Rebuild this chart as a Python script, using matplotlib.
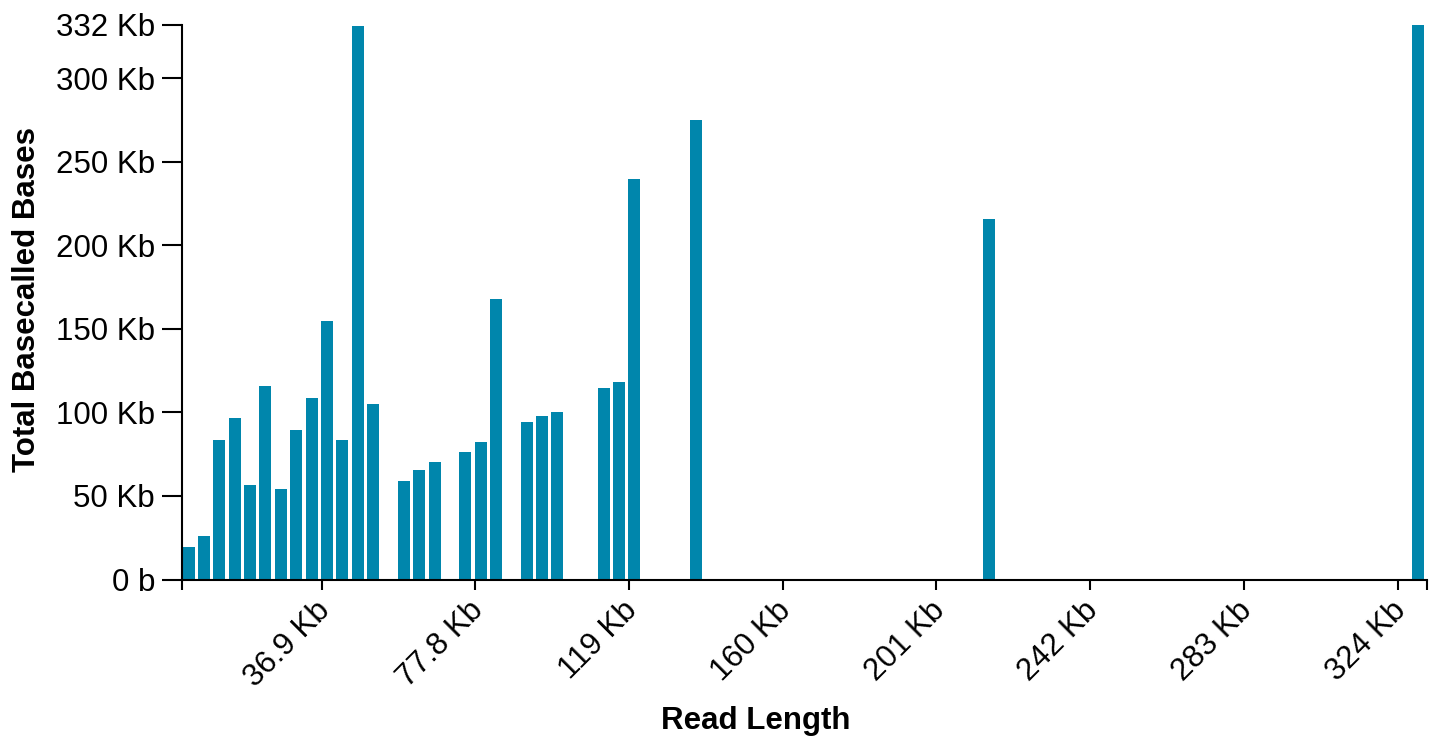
import matplotlib
matplotlib.use("Agg")
import matplotlib.pyplot as plt
import matplotlib.transforms as mtransforms

plt.rcParams['font.family'] = ['Liberation Sans', 'DejaVu Sans']

# read length bins (centre, Kb) and total basecalled bases per bin (Kb)
bin_centers = [1.36, 5.46, 9.56, 13.66, 17.76, 21.86, 25.96, 30.06, 34.16,
               38.26, 42.36, 46.46, 50.56, 58.76, 62.86, 66.96, 75.16, 79.26,
               83.36, 91.56, 95.66, 99.76, 112.06, 116.16, 120.26, 136.66,
               214.96, 329.36]
total_bases = [19.3, 26.3, 83.2, 96.4, 56.3, 115.6, 53.9, 89.2, 108.4,
               154.5, 83.2, 331.1, 104.8, 58.7, 65.3, 70.1, 76.0, 82.0,
               167.7, 94.0, 97.6, 100.0, 114.4, 118.0, 239.5, 274.9,
               215.6, 332.0]

x_ticks = [36.85, 77.85, 118.85, 159.85, 200.85, 241.85, 282.85, 323.85]
x_tick_labels = ['36.9 Kb', '77.8 Kb', '119 Kb', '160 Kb', '201 Kb',
                 '242 Kb', '283 Kb', '324 Kb']
y_ticks = [0, 50, 100, 150, 200, 250, 300, 332]
y_tick_labels = ['0 b', '50 Kb', '100 Kb', '150 Kb', '200 Kb', '250 Kb',
                 '300 Kb', '332 Kb']

x_min, x_max = -0.4, 331.7
bar_width = 3.2
color = '#0086AC'
fs = 22.5

fig = plt.figure(figsize=(14.37, 7.37), dpi=100)
W, H = 1437, 737
ax = fig.add_axes([182 / W, 1 - 579.5 / H, (1427 - 182) / W, (579.5 - 24.6) / H])

ax.bar(bin_centers, total_bases, width=bar_width, color=color, align='center')

ax.set_xlim(x_min, x_max)
ax.set_ylim(0, 332)

for side in ['top', 'right']:
    ax.spines[side].set_visible(False)
for side in ['left', 'bottom']:
    ax.spines[side].set_linewidth(1.5)
    ax.spines[side].set_color('black')

ax.set_xticks(x_ticks)
ax.set_xticklabels(x_tick_labels, fontsize=fs, rotation=45, ha='right',
                   va='top', rotation_mode='anchor')
ax.set_xticks([x_min, x_max], minor=True)
ax.tick_params(axis='x', which='both', length=7.2, width=1.5, pad=4.3)
ax.tick_params(axis='x', which='minor', labelbottom=False)

# nudge rotated labels so their ends sit just under the ticks
offset = mtransforms.ScaledTranslation(-7 / 100, 0, fig.dpi_scale_trans)
for lbl in ax.get_xticklabels():
    lbl.set_transform(lbl.get_transform() + offset)

ax.set_yticks(y_ticks)
ax.set_yticklabels(y_tick_labels, fontsize=fs)
ax.tick_params(axis='y', length=14.4, width=1.5, pad=5)

fig.text(27 / W, 1 - 300 / H, 'Total Basecalled Bases', rotation=90,
         ha='center', va='center', fontsize=fs, fontweight='bold')
fig.text(756 / W, 1 - 721 / H, 'Read Length', ha='center', va='center',
         fontsize=fs, fontweight='bold')

fig.savefig('out.png', dpi=100)
